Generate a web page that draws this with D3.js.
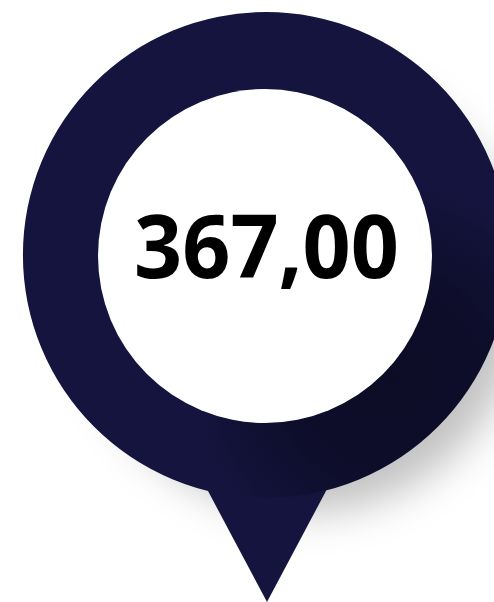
<!DOCTYPE html>
<html>
<head>
<meta charset="utf-8">
<script src="https://cdn.jsdelivr.net/npm/d3@7"></script>
<style>
html, body { margin: 0; padding: 0; background: #fff; overflow: hidden; }
svg { display: block; }
</style>
</head>
<body>
<div id="chart"></div>
<script>
// the single KPI shown in the pin
let values = [367];
let decimals = [2];

let width = 494, height = 602;
let cx = 266, cy = 255, outerR = 243, innerR = 167;

let format = d3.formatLocale({decimal: ",", thousands: ".", grouping: [3], currency: ["", ""]})
    .format(`.${decimals[0]}f`);

let svg = d3.select("#chart").append("svg")
    .attr("width", width)
    .attr("height", height);

let defs = svg.append("defs");

let blur = defs.append("filter")
    .attr("id", "pinShadow")
    .attr("x", "-20%").attr("y", "-20%")
    .attr("width", "150%").attr("height", "150%");
blur.append("feGaussianBlur").attr("stdDeviation", 20);

// darker patch on the lower right of the ring, relative to the ring centre
let shade = defs.append("radialGradient")
    .attr("id", "ringShade")
    .attr("gradientUnits", "userSpaceOnUse")
    .attr("cx", 122).attr("cy", 122).attr("r", 200);
shade.append("stop").attr("offset", 0).attr("stop-color", "#0c0c26");
shade.append("stop").attr("offset", 0.55).attr("stop-color", "#0e0e2c");
shade.append("stop").attr("offset", 1).attr("stop-color", "#14143f");

// soft shadow falling down and to the right
svg.append("circle")
    .attr("cx", cx + 38)
    .attr("cy", cy + 38)
    .attr("r", outerR - 23)
    .attr("fill", "#000")
    .attr("fill-opacity", 0.24)
    .attr("filter", "url(#pinShadow)");

// pin point
svg.append("path")
    .attr("d", d3.line()([[208, 491], [267, 602], [326, 491], [326, 470], [208, 470]]) + "Z")
    .attr("fill", "#14143f");

let pie = d3.pie().sort(null);
let arc = d3.arc().innerRadius(innerR - 2).outerRadius(outerR);

svg.append("g")
    .attr("transform", `translate(${cx},${cy})`)
    .selectAll("path")
    .data(pie(values))
    .join("path")
    .attr("d", arc)
    .attr("fill", "url(#ringShade)");

// white face
svg.append("circle")
    .attr("cx", 265)
    .attr("cy", 256)
    .attr("r", innerR)
    .attr("fill", "#fff");

svg.append("text")
    .attr("x", 266.5)
    .attr("y", 278)
    .attr("text-anchor", "middle")
    .attr("font-family", "'Open Sans', sans-serif")
    .attr("font-weight", 700)
    .attr("font-size", 87)
    .attr("textLength", 265)
    .attr("lengthAdjust", "spacingAndGlyphs")
    .attr("fill", "#000")
    .text(format(values[0]));
</script>
</body>
</html>
